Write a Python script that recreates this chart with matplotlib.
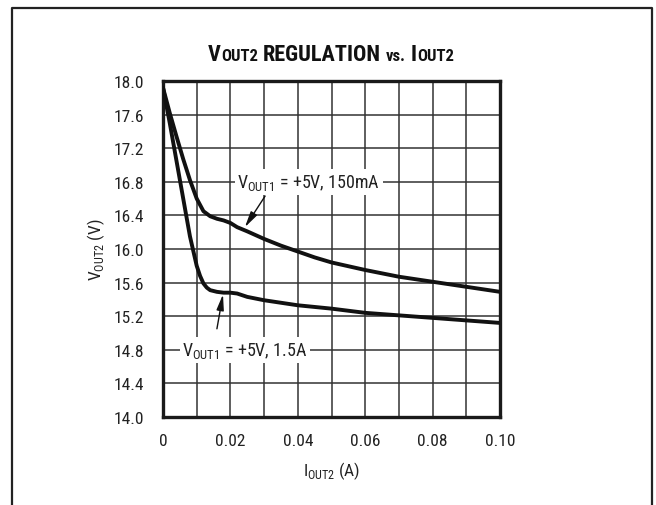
import matplotlib
matplotlib.use("Agg")
import matplotlib.pyplot as plt
from matplotlib import font_manager as fm

names = {f.name for f in fm.fontManager.ttflist}
FONT = next((n for n in ["Liberation Sans Narrow", "Roboto Condensed", "Roboto", "Liberation Sans"]
             if n in names), "DejaVu Sans")
plt.rcParams['font.family'] = [FONT, 'DejaVu Sans']
plt.rcParams['mathtext.fontset'] = 'custom'
plt.rcParams['mathtext.rm'] = FONT

# ---- data ----
x_150mA = [0.000, 0.002, 0.004, 0.006, 0.008, 0.010, 0.012, 0.014, 0.016, 0.018,
           0.020, 0.022, 0.025, 0.030, 0.035, 0.040, 0.045, 0.050, 0.060, 0.070,
           0.080, 0.090, 0.100]
y_150mA = [17.92, 17.62, 17.34, 17.07, 16.82, 16.60, 16.45, 16.39, 16.36, 16.34,
           16.31, 16.26, 16.21, 16.12, 16.04, 15.97, 15.90, 15.84, 15.75, 15.67,
           15.61, 15.55, 15.49]
x_1p5A = [0.000, 0.002, 0.004, 0.006, 0.008, 0.010, 0.011, 0.012, 0.013, 0.014,
          0.016, 0.018, 0.020, 0.022, 0.025, 0.030, 0.035, 0.040, 0.050, 0.060,
          0.070, 0.080, 0.090, 0.100]
y_1p5A = [17.92, 17.50, 17.05, 16.60, 16.15, 15.80, 15.68, 15.59, 15.54, 15.51,
          15.49, 15.48, 15.48, 15.47, 15.43, 15.39, 15.36, 15.33, 15.29, 15.24,
          15.21, 15.18, 15.15, 15.12]
x_ticks = [0, 0.02, 0.04, 0.06, 0.08, 0.10]
x_ticklabels = ["0", "0.02", "0.04", "0.06", "0.08", "0.10"]
y_ticks = [14.0, 14.4, 14.8, 15.2, 15.6, 16.0, 16.4, 16.8, 17.2, 17.6, 18.0]
y_ticklabels = ["14.0", "14.4", "14.8", "15.2", "15.6", "16.0", "16.4", "16.8", "17.2", "17.6", "18.0"]

W, H = 656, 506
fig = plt.figure(figsize=(W / 100, H / 100), dpi=100)
ax = fig.add_axes([163 / W, 1 - 418 / H, (500 - 163) / W, (418 - 82) / H])

# outer frame (no bottom edge)
fx0, fx1, fy = 12 / W, 652 / W, 1 - 9 / H
fig.add_artist(plt.Line2D([fx0, fx0, fx1, fx1], [-0.05, fy, fy, -0.05],
                          transform=fig.transFigure, color='#222222', lw=1.6))

ax.set_xlim(0, 0.10)
ax.set_ylim(14.0, 18.0)
ax.set_xticks(x_ticks)
ax.set_xticklabels(x_ticklabels)
ax.set_xticks([i * 0.01 for i in range(11)], minor=True)
ax.set_yticks(y_ticks)
ax.set_yticklabels(y_ticklabels)
ax.grid(True, which='both', color='#333333', lw=1.1)
ax.set_axisbelow(True)
ax.tick_params(which='both', length=0)
ax.tick_params(axis='y', pad=13.5, labelsize=12.5, labelcolor='#222222')
ax.tick_params(axis='x', pad=11.5, labelsize=12.5, labelcolor='#222222')
for s in ax.spines.values():
    s.set_linewidth(2.4)
    s.set_color('#1a1a1a')

ax.plot(x_150mA, y_150mA, color='#111111', lw=2.8, solid_capstyle='round', zorder=3)
ax.plot(x_1p5A, y_1p5A, color='#111111', lw=2.8, solid_capstyle='round', zorder=3)

# annotations
arrow = dict(arrowstyle='-|>,head_length=0.95,head_width=0.22', color='#111111', lw=1.0,
             shrinkA=0, shrinkB=0)
ax.text(0.0433, 16.8, r"V$_{\mathregular{OUT1}}$ = +5V, 150mA", ha='center', va='center',
        fontsize=13, color='#222222', zorder=4,
        bbox=dict(facecolor='white', edgecolor='none', pad=2.0))
ax.annotate("", xy=(0.0243, 16.26), xytext=(0.0303, 16.63), arrowprops=arrow, zorder=4)
ax.text(0.0243, 14.8, r"V$_{\mathregular{OUT1}}$ = +5V, 1.5A", ha='center', va='center',
        fontsize=13, color='#222222', zorder=4,
        bbox=dict(facecolor='white', edgecolor='none', pad=2.0))
ax.annotate("", xy=(0.0178, 15.46), xytext=(0.0160, 15.05), arrowprops=arrow, zorder=4)

ax.set_ylabel(r"V$_{\mathregular{OUT2}}$ (V)", fontsize=12.5, color='#222222', labelpad=5)
ax.set_xlabel(r"I$_{\mathregular{OUT2}}$ (A)", fontsize=12.5, color='#222222', labelpad=8)

# title drawn in pieces (small caps style)
fig.canvas.draw()
renderer = fig.canvas.get_renderer()
BIG, SMALL = 16, 12
pieces = [("V", BIG, 0), ("OUT2", SMALL, 5), ("REGULATION", BIG, 5), ("vs.", SMALL, 5),
          ("I", BIG, 0), ("OUT2", SMALL, 0)]
widths = []
for s, fs, gap in pieces:
    t = fig.text(0, 0, s, fontsize=fs, fontweight='bold')
    widths.append(t.get_window_extent(renderer).width)
    t.remove()
total = sum(widths) + sum(p[2] for p in pieces)
xpix = 331 - total / 2
ybase = 1 - 61 / H
for (s, fs, gap), w in zip(pieces, widths):
    fig.text(xpix / W, ybase, s, fontsize=fs, fontweight='bold', va='baseline', ha='left',
             color='#111111')
    xpix += w + gap

fig.savefig("out.png", dpi=100)
